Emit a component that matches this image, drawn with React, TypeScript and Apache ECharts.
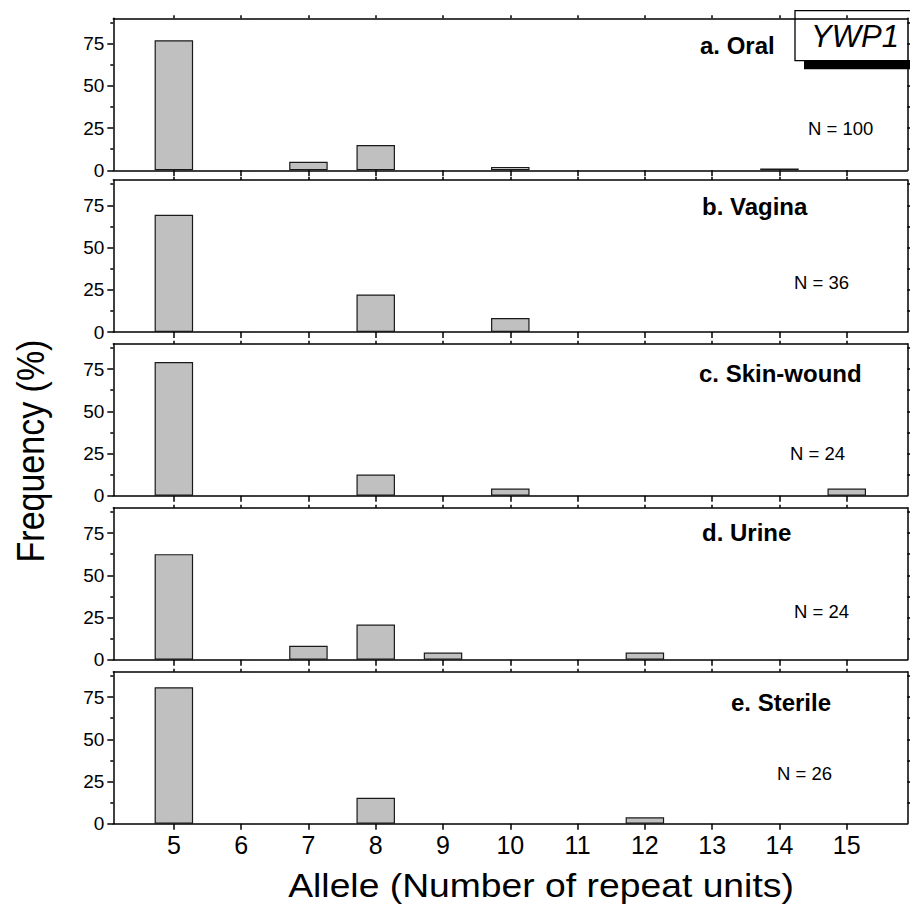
import React, { useEffect, useRef } from "react";
import * as echarts from "echarts";

// Allele sizes (number of repeat units) and frequency (%) per isolate source
const ALLELES = [5, 6, 7, 8, 9, 10, 11, 12, 13, 14, 15];
const oral = [77, 0, 5, 15, 0, 2, 0, 0, 0, 1, 0];
const vagina = [69.4, 0, 0, 22.2, 0, 8.3, 0, 0, 0, 0, 0];
const skinWound = [79.2, 0, 0, 12.5, 0, 4.2, 0, 0, 0, 0, 4.2];
const urine = [62.5, 0, 8.3, 20.8, 4.2, 0, 0, 4.2, 0, 0, 0];
const sterile = [80.8, 0, 0, 15.4, 0, 0, 0, 3.8, 0, 0, 0];

const PANEL_LABELS = ["a. Oral", "b. Vagina", "c. Skin-wound", "d. Urine", "e. Sterile"];
const SAMPLE_SIZES = [100, 36, 24, 24, 26];
const Y_MAJOR = [0, 25, 50, 75];
const Y_MINOR = [12.5, 37.5, 62.5, 87.5];
const Y_ALL = [12.5, 25, 37.5, 50, 62.5, 75, 87.5];

const SERIES = [oral, vagina, skinWound, urine, sterile];

const FONT = "'Liberation Sans', Arial, Helvetica, sans-serif";
const X_MIN = 4.1;
const X_MAX = 15.9;
const Y_MAX = 90;

// layout of the stacked panels
const GRID_LEFT = 113.3;
const GRID_WIDTH = 794;
const GRID_HEIGHT = 152;
const GRID_BOTTOMS = [170.3, 332, 495.7, 659.7, 823.7];
const LABEL_POS: [number, number][] = [
  [700, 45],
  [702, 206],
  [699, 373],
  [702, 532],
  [731, 702],
];
const N_POS: [number, number][] = [
  [808, 128],
  [794, 282],
  [790, 453],
  [794, 611],
  [777, 773],
];

const AXIS_LINE = { color: "#000", width: 1.5 };

export default function App() {
  const ref = useRef<HTMLDivElement>(null);

  useEffect(() => {
    document.body.style.margin = "0";
    if (!ref.current) return;
    const chart = echarts.init(ref.current, null, { renderer: "svg" });

    const grid: any[] = [];
    const xAxis: any[] = [];
    const yAxis: any[] = [];
    const series: any[] = [];
    const graphic: any[] = [];

    SERIES.forEach((vals, i) => {
      const isLast = i === SERIES.length - 1;
      grid.push({
        left: GRID_LEFT,
        top: GRID_BOTTOMS[i] - GRID_HEIGHT,
        width: GRID_WIDTH,
        height: GRID_HEIGHT,
      });
      xAxis.push(
        {
          gridIndex: i,
          type: "value",
          min: X_MIN,
          max: X_MAX,
          position: "bottom",
          axisLine: { show: true, onZero: false, lineStyle: AXIS_LINE },
          axisTick: {
            show: true,
            customValues: ALLELES,
            length: 6,
            inside: false,
            lineStyle: AXIS_LINE,
          },
          axisLabel: {
            show: isLast,
            customValues: ALLELES,
            fontSize: 25,
            margin: 9,
            color: "#000",
            fontFamily: FONT,
          },
          splitLine: { show: false },
        },
        {
          gridIndex: i,
          type: "value",
          min: X_MIN,
          max: X_MAX,
          position: "top",
          axisLine: { show: true, onZero: false, lineStyle: AXIS_LINE },
          axisTick: {
            show: true,
            customValues: ALLELES,
            length: 3,
            inside: false,
            lineStyle: AXIS_LINE,
          },
          axisLabel: { show: false },
          splitLine: { show: false },
        }
      );
      yAxis.push(
        {
          gridIndex: i,
          type: "value",
          min: 0,
          max: Y_MAX,
          position: "left",
          axisLine: { show: true, onZero: false, lineStyle: AXIS_LINE },
          axisTick: {
            show: true,
            customValues: Y_MAJOR,
            length: 6,
            inside: false,
            lineStyle: AXIS_LINE,
          },
          axisLabel: {
            show: true,
            customValues: Y_MAJOR,
            fontSize: 19,
            margin: 9,
            color: "#000",
            fontFamily: FONT,
          },
          splitLine: { show: false },
        },
        {
          gridIndex: i,
          type: "value",
          min: 0,
          max: Y_MAX,
          position: "left",
          axisLine: { show: false },
          axisTick: {
            show: true,
            customValues: Y_MINOR,
            length: 3,
            inside: false,
            lineStyle: AXIS_LINE,
          },
          axisLabel: { show: false },
          splitLine: { show: false },
        },
        {
          gridIndex: i,
          type: "value",
          min: 0,
          max: Y_MAX,
          position: "right",
          axisLine: { show: true, onZero: false, lineStyle: AXIS_LINE },
          axisTick: {
            show: true,
            customValues: Y_ALL,
            length: 3,
            inside: false,
            lineStyle: AXIS_LINE,
          },
          axisLabel: { show: false },
          splitLine: { show: false },
        }
      );
      series.push({
        type: "bar",
        xAxisIndex: 2 * i,
        yAxisIndex: 3 * i,
        barWidth: 38.5,
        itemStyle: { color: "#c0c0c0", borderColor: "#1a1a1a", borderWidth: 1.2 },
        data: ALLELES.map((a, k) => [a, vals[k]]).filter((d) => d[1] > 0),
      });
      graphic.push(
        {
          type: "text",
          x: LABEL_POS[i][0],
          y: LABEL_POS[i][1],
          style: {
            text: PANEL_LABELS[i],
            font: `bold 24px ${FONT}`,
            fill: "#000",
            textAlign: "left",
            textVerticalAlign: "middle",
          },
        },
        {
          type: "text",
          x: N_POS[i][0],
          y: N_POS[i][1],
          style: {
            text: `N = ${SAMPLE_SIZES[i]}`,
            font: `18.5px ${FONT}`,
            fill: "#000",
            textAlign: "left",
            textVerticalAlign: "middle",
          },
        }
      );
    });

    // gene name tag with drop shadow
    graphic.push(
      {
        type: "rect",
        shape: { x: 804, y: 19.3, width: 130, height: 50 },
        style: { fill: "#000" },
      },
      {
        type: "rect",
        shape: { x: 795, y: 10.7, width: 130, height: 50 },
        style: { fill: "#fff", stroke: "#000", lineWidth: 1.3 },
      },
      {
        type: "text",
        x: 855,
        y: 36,
        style: {
          text: "YWP1",
          font: `italic 31px ${FONT}`,
          fill: "#000",
          textAlign: "center",
          textVerticalAlign: "middle",
        },
      },
      {
        type: "text",
        x: 541,
        y: 885,
        scaleX: 1.13,
        style: {
          text: "Allele (Number of repeat units)",
          font: `33px ${FONT}`,
          fill: "#000",
          textAlign: "center",
          textVerticalAlign: "middle",
        },
      },
      {
        type: "text",
        x: 31,
        y: 451,
        rotation: Math.PI / 2,
        scaleY: 1.12,
        style: {
          text: "Frequency (%)",
          font: `34px ${FONT}`,
          fill: "#000",
          textAlign: "center",
          textVerticalAlign: "middle",
        },
      }
    );

    chart.setOption({
      animation: false,
      backgroundColor: "#fff",
      grid,
      xAxis,
      yAxis,
      series,
      graphic,
    });

    return () => chart.dispose();
  }, []);

  return <div ref={ref} style={{ width: 910, height: 909 }} />;
}
